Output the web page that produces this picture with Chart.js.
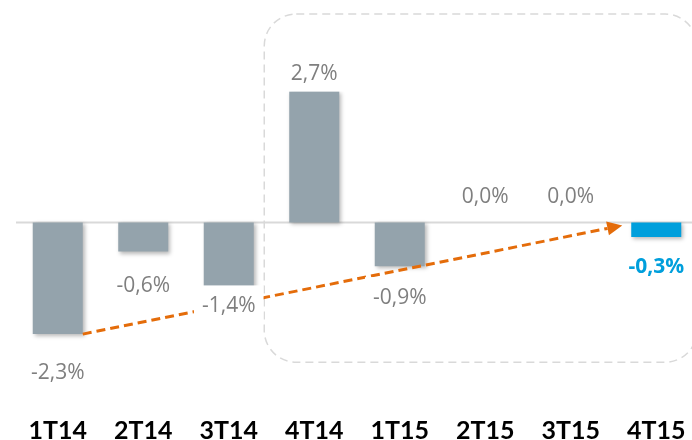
<!DOCTYPE html>
<html>
<head>
<meta charset="utf-8">
<script src="https://cdn.jsdelivr.net/npm/chart.js@4.4.0/dist/chart.umd.min.js"></script>
<style>
  html, body { margin: 0; padding: 0; background: #fff; overflow: hidden; }
  #wrap { width: 700px; height: 440px; }
</style>
</head>
<body>
<div id="wrap"><canvas id="chart" width="700" height="440"></canvas></div>
<script>
// ─── Data ────────────────────────────────────────────────────────────────────
const QUARTERS = ['1T14', '2T14', '3T14', '4T14', '1T15', '2T15', '3T15', '4T15'];
const CHANGE = [-2.3, -0.6, -1.4, 2.7, -0.9, 0.0, 0.0, -0.3];
const HIGHLIGHT = [false, false, false, false, false, false, false, true];

// ─── Style ───────────────────────────────────────────────────────────────────
const GREY_BAR = '#94a3ac';
const BLUE = '#009fdc';
const ORANGE = '#e46c0a';
const LINE_GREY = '#d9d9d9';
const LABEL_GREY = '#7f7f7f';
// distance from bar end to label centre (labels were nudged by hand in the original)
const LABEL_GAP = [37, 33, 14, 19, 30, 27, 27, 28];

const fmt = v => v.toFixed(1).replace('.', ',') + '%';

const decor = {
  id: 'decor',
  beforeDatasetsDraw(chart) {
    const { ctx, chartArea, scales: { y } } = chart;
    const y0 = y.getPixelForValue(0);
    ctx.save();
    ctx.strokeStyle = LINE_GREY;
    ctx.lineWidth = 2;
    ctx.beginPath();
    ctx.moveTo(chartArea.left + 1, y0);
    ctx.lineTo(chartArea.right, y0);
    ctx.stroke();
    ctx.restore();
    // soft drop shadow on bars
    ctx.save();
    ctx.shadowColor = 'rgba(0,0,0,0.28)';
    ctx.shadowBlur = 4;
    ctx.shadowOffsetX = 2;
    ctx.shadowOffsetY = 2;
  },
  afterDatasetsDraw(chart) {
    const { ctx, chartArea, scales: { x, y } } = chart;
    ctx.restore();
    const bars = chart.getDatasetMeta(0).data;
    const y0 = y.getPixelForValue(0);

    // dashed rounded frame around the 4T14..4T15 window
    ctx.save();
    ctx.strokeStyle = LINE_GREY;
    ctx.lineWidth = 1.5;
    ctx.setLineDash([8, 5]);
    const left = x.getPixelForValue(3) - 50;
    const top = chartArea.top + 10;
    const bottom = y.getPixelForValue(-2.88);
    const right = chartArea.right - 2;
    ctx.beginPath();
    ctx.roundRect(left, top, right - left, bottom - top, 32);
    ctx.stroke();
    ctx.restore();

    // orange dashed trend arrow
    const b0 = bars[0], b7 = bars[7];
    const sx = b0.x + b0.width / 2, sy = b0.y;
    const tx = b7.x - b7.width / 2 - 9, ty = y0 + 3;
    const ang = Math.atan2(ty - sy, tx - sx);
    const headLen = 15, headW = 7;
    const bx = tx - headLen * Math.cos(ang), by = ty - headLen * Math.sin(ang);
    ctx.save();
    ctx.strokeStyle = ORANGE;
    ctx.fillStyle = ORANGE;
    ctx.lineWidth = 3;
    ctx.setLineDash([9, 5]);
    ctx.beginPath();
    ctx.moveTo(sx, sy);
    ctx.lineTo(bx, by);
    ctx.stroke();
    ctx.setLineDash([]);
    ctx.beginPath();
    ctx.moveTo(tx, ty);
    ctx.lineTo(bx + headW * Math.sin(ang), by - headW * Math.cos(ang));
    ctx.lineTo(bx - headW * Math.sin(ang), by + headW * Math.cos(ang));
    ctx.closePath();
    ctx.fill();
    ctx.restore();

    // value labels on white boxes
    ctx.save();
    ctx.textAlign = 'center';
    ctx.textBaseline = 'alphabetic';
    bars.forEach((el, i) => {
      const v = CHANGE[i];
      const cy = v < 0 ? el.y + LABEL_GAP[i] : el.y - LABEL_GAP[i];
      ctx.font = (HIGHLIGHT[i] ? 'bold ' : '') + '21px "Open Sans"';
      const text = fmt(v);
      const w = ctx.measureText(text).width;
      ctx.fillStyle = '#fff';
      ctx.fillRect(el.x - w / 2 - 8, cy - 19, w + 16, 38);
      ctx.fillStyle = HIGHLIGHT[i] ? BLUE : LABEL_GREY;
      ctx.fillText(text, el.x, cy + 7.5);
    });
    ctx.restore();
  }
};

function draw() {
  new Chart(document.getElementById('chart'), {
    type: 'bar',
    data: {
      labels: QUARTERS,
      datasets: [{
        data: CHANGE,
        backgroundColor: HIGHLIGHT.map(h => h ? BLUE : GREY_BAR),
        borderWidth: 0,
        categoryPercentage: 1,
        barPercentage: 0.585,
      }],
    },
    options: {
      responsive: false,
      animation: false,
      devicePixelRatio: 1,
      layout: { padding: { left: 15, right: 1, top: 4, bottom: 0 } },
      plugins: { legend: { display: false }, tooltip: { enabled: false } },
      scales: {
        x: {
          grid: { display: false, drawTicks: false },
          border: { display: false },
          ticks: {
            color: '#000',
            font: { family: 'Lato', size: 25, weight: 'bold', lineHeight: 0.75 },
            padding: 34,
            maxRotation: 0,
            autoSkip: false,
          },
          // pin the axis box so the plot keeps its original proportions
          afterFit(scale) {
            scale.height = 52.5;
            scale.paddingLeft = 0;
            scale.paddingRight = 0;
          },
        },
        y: { display: false, min: -3.4, max: 4.5 },
      },
    },
    plugins: [decor],
  });
}

Promise.all([
  document.fonts.load('bold 25px Lato'),
  document.fonts.load('21px "Open Sans"'),
  document.fonts.load('bold 21px "Open Sans"'),
]).then(draw, draw);
</script>
</body>
</html>
